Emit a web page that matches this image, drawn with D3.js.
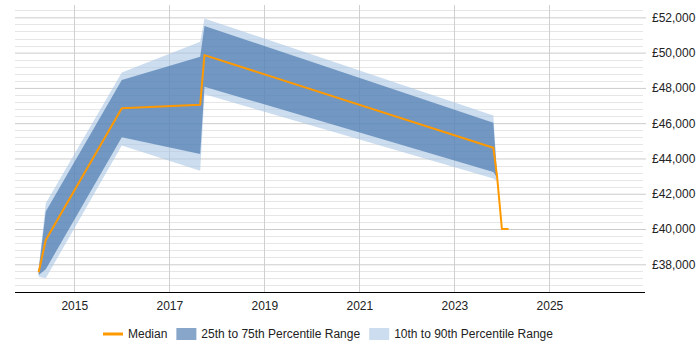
<!DOCTYPE html>
<html>
<head>
<meta charset="utf-8">
<script src="https://cdn.jsdelivr.net/npm/d3@7"></script>
<style>
  body { margin: 0; background: #fff; }
  svg { display: block; font-family: "Liberation Sans", Arial, sans-serif; }
</style>
</head>
<body>
<div id="chart"></div>
<script>
// data (decimal years, salary in GBP)
var bandDates = [2014.25, 2014.40, 2016.00, 2017.65, 2017.74, 2023.82, 2023.90];
var p10 = [37300, 37210, 44730, 43310, 47640, 42860, 42690];
var p25 = [37400, 37720, 45200, 44260, 48070, 43230, 42900];
var p75 = [37700, 40990, 48450, 49770, 51510, 46030, 43000];
var p90 = [37750, 41460, 48880, 50620, 51940, 46430, 43050];

var medianDates = [2014.25, 2014.40, 2016.00, 2017.65, 2017.74, 2023.82, 2023.90, 2024.00, 2024.14];
var medianValues = [37550, 39380, 46840, 47050, 49860, 44610, 42950, 40000, 40000];

var yearTicks = [2015, 2017, 2019, 2021, 2023, 2025];
var salaryTicks = [38000, 40000, 42000, 44000, 46000, 48000, 50000, 52000];
var legendLabels = ["Median", "25th to 75th Percentile Range", "10th to 90th Percentile Range"];

var width = 700, height = 350;
var margin = {left: 15, right: 643, top: 5, bottom: 292};

var svg = d3.select("#chart").append("svg")
    .attr("width", width)
    .attr("height", height);

var x = d3.scaleLinear().domain([2013.752, 2026.97]).range([margin.left, margin.right]);
var y = d3.scaleLinear().domain([36430, 52700]).range([margin.bottom, margin.top]);

// minor gridlines every 400
var minor = d3.range(36800, 52700, 400).filter(function(v) { return v % 2000 !== 0; });
svg.append("g").selectAll("line").data(minor).enter().append("line")
    .attr("x1", margin.left).attr("x2", margin.right)
    .attr("y1", function(d) { return Math.round(y(d)) + 0.5; })
    .attr("y2", function(d) { return Math.round(y(d)) + 0.5; })
    .attr("stroke", "#e6e6e6");

// vertical gridlines
svg.append("g").selectAll("line").data(yearTicks).enter().append("line")
    .attr("x1", function(d) { return Math.round(x(d)) + 0.5; })
    .attr("x2", function(d) { return Math.round(x(d)) + 0.5; })
    .attr("y1", margin.top).attr("y2", margin.bottom)
    .attr("stroke", "#d0d0d0");

// right y axis with major gridlines
var yAxis = d3.axisRight(y).tickValues(salaryTicks)
    .tickSize(margin.right - margin.left + 3)
    .tickPadding(6)
    .tickFormat(function(d) { return "£" + d3.format(",")(d); });
var gy = svg.append("g")
    .attr("transform", "translate(" + margin.left + ",0)")
    .call(yAxis);
gy.select(".domain").remove();
gy.selectAll(".tick line").attr("stroke", "#cccccc");
gy.selectAll(".tick text")
    .attr("font-size", 12)
    .attr("font-family", "Liberation Sans, Arial, sans-serif")
    .attr("fill", "#222");

// bands
var bandIdx = d3.range(bandDates.length);
var outer = d3.area()
    .x(function(i) { return x(bandDates[i]); })
    .y0(function(i) { return y(p10[i]); })
    .y1(function(i) { return y(p90[i]); });
var inner = d3.area()
    .x(function(i) { return x(bandDates[i]); })
    .y0(function(i) { return y(p25[i]); })
    .y1(function(i) { return y(p75[i]); });

svg.append("path").datum(bandIdx)
    .attr("d", outer)
    .attr("fill", "rgba(170,198,228,0.6)");
svg.append("path").datum(bandIdx)
    .attr("d", inner)
    .attr("fill", "rgba(70,118,172,0.68)");

// median
var line = d3.line()
    .x(function(i) { return x(medianDates[i]); })
    .y(function(i) { return y(medianValues[i]); });
svg.append("path").datum(d3.range(medianDates.length))
    .attr("d", line)
    .attr("fill", "none")
    .attr("stroke", "#ff9900")
    .attr("stroke-width", 2)
    .attr("stroke-linejoin", "round");

// x axis
var xAxis = d3.axisBottom(x).tickValues(yearTicks).tickSize(0).tickPadding(9)
    .tickFormat(d3.format("d"));
var gx = svg.append("g")
    .attr("transform", "translate(0," + margin.bottom + ")")
    .call(xAxis);
gx.select(".domain").attr("d", "M" + margin.left + ",0.5H" + (margin.right + 2)).attr("stroke", "#000");
gx.selectAll(".tick text")
    .attr("font-size", 12)
    .attr("font-family", "Liberation Sans, Arial, sans-serif")
    .attr("fill", "#222");

// legend
var legend = svg.append("g").attr("transform", "translate(0,334)");
var lx = 103;
legendLabels.forEach(function(label, i) {
    if (i === 0) {
        legend.append("line")
            .attr("x1", lx).attr("x2", lx + 20)
            .attr("y1", 0).attr("y2", 0)
            .attr("stroke", "#ff9900").attr("stroke-width", 3);
    } else {
        legend.append("rect")
            .attr("x", lx).attr("y", -6)
            .attr("width", 20).attr("height", 12)
            .attr("fill", i === 1 ? "rgba(70,118,172,0.65)" : "rgba(170,198,228,0.6)");
    }
    var t = legend.append("text")
        .attr("x", lx + 25).attr("y", 0)
        .attr("dy", "0.35em")
        .attr("font-size", 12)
        .attr("fill", "#222")
        .text(label);
    lx += 25 + t.node().getComputedTextLength() + 9;
});
</script>
</body>
</html>
